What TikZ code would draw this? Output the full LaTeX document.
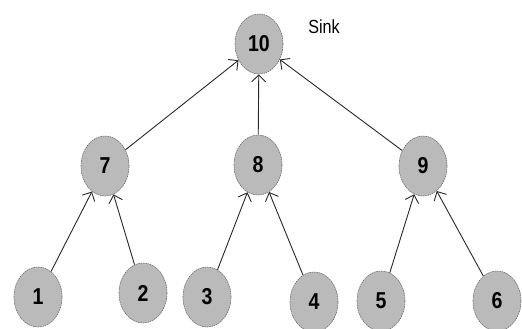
\documentclass[tikz,border=0pt]{standalone}
\usepackage{fontspec}
\setmainfont{Liberation Sans}
\newfontfamily\labelfont[FakeStretch=0.85]{Liberation Sans}
\usetikzlibrary{arrows.meta,shapes.geometric}
\definecolor{nodefill}{RGB}{186,186,186}
\definecolor{nodeline}{RGB}{110,110,110}
\definecolor{linkcol}{RGB}{40,40,40}
\begin{document}
\begin{tikzpicture}[x=1pt,y=-1pt,
  vertex/.style={ellipse,fill=nodefill,draw=nodeline,line width=0.6pt,
    dash pattern=on 1.6pt off 0.8pt,minimum width=48pt,minimum height=60pt,
    inner sep=0pt,font=\labelfont\bfseries\fontsize{23}{25}\selectfont},
  link/.style={-{Straight Barb[length=7pt,width=14pt]},line width=0.9pt,draw=linkcol},
  caption/.style={font=\labelfont\fontsize{19}{21}\selectfont}]
\useasboundingbox (0,0) rectangle (522,329);
% tree nodes
\node[vertex] (n10) at (259,44) {10};
\node[vertex] (n7) at (105,166) {7};
\node[vertex] (n8) at (258,165) {8};
\node[vertex] (n9) at (423,166) {9};
\node[vertex] (n1) at (38,297) {1};
\node[vertex] (n2) at (143,293) {2};
\node[vertex] (n3) at (207,297) {3};
\node[vertex] (n4) at (314,302) {4};
\node[vertex] (n5) at (381,301) {5};
\node[vertex] (n6) at (497,301) {6};
\node[caption] (sink) at (324,27) {Sink};
% links towards the sink
\draw[link] (n7) -- (n10);
\draw[link] (n8) -- (n10);
\draw[link] (n9) -- (n10);
\draw[link] (n1) -- (n7);
\draw[link] (n2) -- (n7);
\draw[link] (n3) -- (n8);
\draw[link] (n4) -- (n8);
\draw[link] (n5) -- (n9);
\draw[link] (n6) -- (n9);
\end{tikzpicture}
\end{document}
